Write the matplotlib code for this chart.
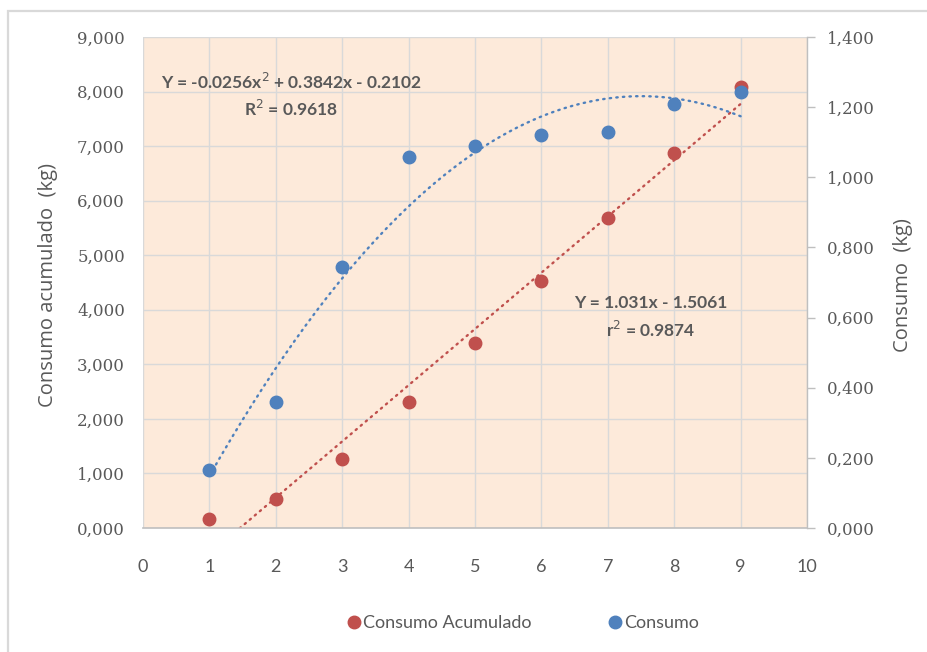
import numpy as np
import matplotlib
matplotlib.use("Agg")
import matplotlib.pyplot as plt
from matplotlib.patches import Rectangle
from matplotlib.ticker import FixedLocator, FuncFormatter
from matplotlib.lines import Line2D

# ---- data ----
x_vals = [1, 2, 3, 4, 5, 6, 7, 8, 9]
consumo_acumulado = [0.160, 0.530, 1.260, 2.310, 3.400, 4.530, 5.680, 6.880, 8.085]   # left axis (kg)
consumo = [0.165, 0.360, 0.743, 1.058, 1.090, 1.120, 1.130, 1.210, 1.242]              # right axis (kg)
lin_coef = [1.031, -1.5061]              # trendline Consumo Acumulado
quad_coef = [-0.0256, 0.3842, -0.2102]   # trendline Consumo
x_ticks = list(range(0, 11))
left_ticks = [0, 1, 2, 3, 4, 5, 6, 7, 8, 9]
right_ticks = [0, 0.2, 0.4, 0.6, 0.8, 1.0, 1.2, 1.4]
eq_quad = ["Y = -0.0256x$^2$ + 0.3842x - 0.2102", "R$^2$ = 0.9618"]
eq_lin = ["Y = 1.031x - 1.5061", "r$^2$ = 0.9874"]

RED = "#C0504D"
BLUE = "#4F81BD"
TXT = "#595959"
GRID = "#D9D9D9"
BG = "#FDEADA"

W, H = 928, 652
fig = plt.figure(figsize=(W / 100, H / 100), dpi=100)
fig.patch.set_facecolor("white")

# outer chart border
fig.patches.append(Rectangle((8 / W, -0.1), 2.0, (652 - 11) / H + 0.1,
                             transform=fig.transFigure, fill=False,
                             edgecolor="#D9D9D9", linewidth=1.6))

L, R, T, B = 143, 807, 37, 528
ax = fig.add_axes([L / W, 1 - B / H, (R - L) / W, (B - T) / H])
ax2 = ax.twinx()

ax.set_facecolor(BG)
ax.set_xlim(0, 10)
ax.set_ylim(0, 9)
ax2.set_ylim(0, 1.4)

# grid
ax.xaxis.set_major_locator(FixedLocator(x_ticks))
ax.yaxis.set_major_locator(FixedLocator(left_ticks))
ax2.yaxis.set_major_locator(FixedLocator(right_ticks))
ax.grid(True, color=GRID, linewidth=1.0)
ax.set_axisbelow(True)

# spines
for a in (ax, ax2):
    for s in a.spines.values():
        s.set_visible(False)
ax.spines["bottom"].set_visible(True)
ax.spines["bottom"].set_color("#BFBFBF")
ax.spines["bottom"].set_linewidth(1.2)
ax2.spines["right"].set_visible(True)
ax2.spines["right"].set_color("#BFBFBF")
ax2.spines["right"].set_linewidth(1.0)

# ticks
serif = "DejaVu Serif"
sans = "Lato"
ax.tick_params(axis="y", length=0, pad=13, labelsize=12, labelcolor=TXT)
ax.tick_params(axis="x", length=0, pad=22, labelsize=13, labelcolor=TXT)
ax2.tick_params(axis="y", length=6, width=1.0, color="#BFBFBF", pad=8,
                labelsize=12, labelcolor=TXT)
fmt = FuncFormatter(lambda v, p: ("%.3f" % v).replace(".", ","))
ax.yaxis.set_major_formatter(fmt)
ax2.yaxis.set_major_formatter(fmt)
for lab in ax.get_yticklabels() + ax2.get_yticklabels():
    lab.set_family(serif)
for lab in ax.get_xticklabels():
    lab.set_family(sans)

# trendlines
xl = np.linspace(1, 9, 200)
ax.plot(xl, np.polyval(lin_coef, xl), color=RED, linewidth=1.7,
        linestyle=(0, (0.6, 2.2)), dash_capstyle="round", zorder=2, clip_on=True)
ax2.plot(xl, np.polyval(quad_coef, xl), color=BLUE, linewidth=1.7,
         linestyle=(0, (0.6, 2.2)), dash_capstyle="round", zorder=2)

# points
ax.plot(x_vals, consumo_acumulado, linestyle="none", marker="o", markersize=9,
        color=RED, zorder=3)
ax2.plot(x_vals, consumo, linestyle="none", marker="o", markersize=9,
         color=BLUE, zorder=3)

# equations
eqkw = dict(ha="center", va="center", fontsize=12.5, color=TXT,
            fontweight="bold", family=sans)
ax.text(2.23, 8.17, eq_quad[0], **eqkw)
ax.text(2.23, 7.68, eq_quad[1], **eqkw)
ax.text(7.65, 4.12, eq_lin[0], **eqkw)
ax.text(7.65, 3.63, eq_lin[1], **eqkw)

# axis labels
fig.text(48 / W, 1 - 285 / H, "Consumo acumulado  (kg)", rotation=90,
         ha="center", va="center", fontsize=14.5, color=TXT, family="Open Sans")
fig.text(903 / W, 1 - 285 / H, "Consumo  (kg)", rotation=90,
         ha="center", va="center", fontsize=14.5, color=TXT, family="Open Sans")

# legend
handles = [Line2D([], [], linestyle="none", marker="o", markersize=9, color=RED),
           Line2D([], [], linestyle="none", marker="o", markersize=9, color=BLUE)]
leg = fig.legend(handles, ["Consumo Acumulado", "Consumo"], ncol=2,
                 loc="center", bbox_to_anchor=(522 / W, 1 - 623 / H),
                 frameon=False, handletextpad=0.0, columnspacing=4.1,
                 handlelength=1.0, prop={"family": sans, "size": 13})
for t in leg.get_texts():
    t.set_color(TXT)

fig.savefig("out.png", dpi=100, facecolor="white")
